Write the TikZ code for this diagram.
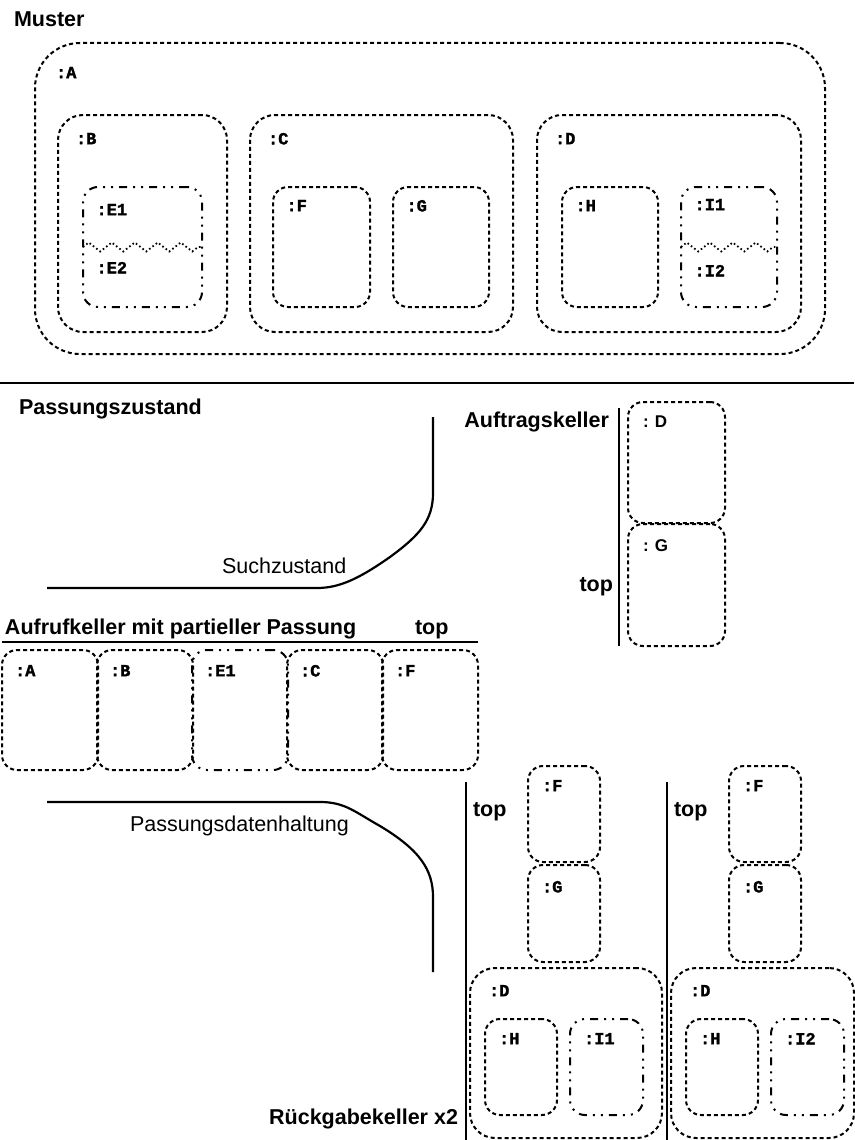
\documentclass[tikz,border=0pt]{standalone}
\usepackage{fontspec}
\setmainfont{Liberation Sans}
\setmonofont{Liberation Mono}[BoldFeatures={FakeBold=1.6}]
\usetikzlibrary{positioning, decorations.pathmorphing}

\begin{document}
\begin{tikzpicture}[
    x=1pt, y=-1pt,
    every node/.style={inner sep=0pt, outer sep=0pt},
    boxd/.style={draw, line width=2pt, dash pattern=on 4pt off 3pt, anchor=north west, rounded corners=15pt},
    bigbox/.style={boxd, rounded corners=25pt},
    dotbox/.style={boxd, dash pattern=on 8pt off 6pt on 2pt off 6pt on 2pt off 6pt},
    tagtxt/.style={font=\fontsize{17}{19}\selectfont\ttfamily\bfseries},
    stagtxt/.style={font=\fontsize{17}{19}\selectfont\bfseries},
    headtxt/.style={font=\fontsize{21.5}{25}\selectfont\bfseries},
    plaintxt/.style={font=\fontsize{21.5}{25}\selectfont},
    sline/.style={line width=2.2pt},
    zz/.style={line width=1.8pt, dash pattern=on 1.6pt off 2.6pt, decorate,
        decoration={zigzag, segment length=23pt, amplitude=4.5pt}}
]
\useasboundingbox (0,0) rectangle (854,1140);

% Muster
\node[headtxt, anchor=base west] (title-muster) at (14,27) {Muster};
\node[boxd, rounded corners=45pt, minimum width=790pt, minimum height=311pt] (A) at (35,43) {};
\node[tagtxt, below right=24pt and 21pt of A.north west] (A-t) {:A};

\node[bigbox, minimum width=169pt, minimum height=217pt] (B) at (58,115) {};
\node[tagtxt, below right=18pt and 18pt of B.north west] (B-t) {:B};
\node[bigbox, minimum width=263pt, minimum height=217pt] (C) at (250,115) {};
\node[tagtxt, below right=18pt and 18pt of C.north west] (C-t) {:C};
\node[bigbox, minimum width=264pt, minimum height=217pt] (D) at (537,115) {};
\node[tagtxt, below right=18pt and 18pt of D.north west] (D-t) {:D};

\node[dotbox, minimum width=119pt, minimum height=120pt] (E) at (83,187) {};
\node[tagtxt, below right=17pt and 13.5pt of E.north west] (E1-t) {:E1};
\node[tagtxt, below right=75pt and 13.5pt of E.north west] (E2-t) {:E2};
\draw[zz] (E.west) -- (E.east);
\node[boxd, minimum width=97pt, minimum height=120pt] (F) at (273,187) {};
\node[tagtxt, below right=13pt and 13.5pt of F.north west] (F-t) {:F};
\node[boxd, minimum width=96pt, minimum height=120pt] (G) at (393,187) {};
\node[tagtxt, below right=13pt and 13.5pt of G.north west] (G-t) {:G};
\node[boxd, minimum width=96pt, minimum height=120pt] (H) at (562,187) {};
\node[tagtxt, below right=13pt and 13.5pt of H.north west] (H-t) {:H};
\node[dotbox, minimum width=96pt, minimum height=120pt] (I) at (681,187) {};
\node[tagtxt, below right=12pt and 13.5pt of I.north west] (I1-t) {:I1};
\node[tagtxt, below right=78pt and 13.5pt of I.north west] (I2-t) {:I2};
\draw[zz] (I.west) -- (I.east);

\draw[sline] (0,383) -- (854,383);

% Passungszustand
\node[headtxt, anchor=base west] (title-state) at (19,414) {Passungszustand};
\draw[sline] (433,417) -- (433,493) .. controls (433,520) and (420,535) .. (390,557)
    .. controls (360,578) and (340,588) .. (317,588) -- (47,588);
\node[plaintxt, anchor=base west] (search) at (222,573) {Suchzustand};

% Auftragskeller
\node[headtxt, anchor=base east] (title-job) at (609,427) {Auftragskeller};
\draw[sline] (619,408) -- (619,646);
\node[headtxt, anchor=base east] (job-top) at (613,591) {top};
\node[boxd, minimum width=97pt, minimum height=121pt] (job-D) at (628,402) {};
\node[stagtxt, below right=14pt and 15pt of job-D.north west] (job-D-t) {: D};
\node[boxd, minimum width=97pt, minimum height=122pt] (job-G) at (628,524) {};
\node[stagtxt, below right=16pt and 15pt of job-G.north west] (job-G-t) {: G};

% Aufrufkeller
\node[headtxt, anchor=base west] (title-call) at (5,634) {Aufrufkeller mit partieller Passung};
\node[headtxt, anchor=base west] (call-top) at (415,634) {top};
\draw[sline] (2,642) -- (478,642);
\foreach \n/\t/\s in {0/A/boxd, 1/B/boxd, 2/E1/dotbox, 3/C/boxd, 4/F/boxd} {
  \node[\s, minimum width=96pt, minimum height=120pt] (call-\n) at ({2+95*\n},650) {};
  \node[tagtxt, below right=15pt and 13pt of call-\n.north west] (call-\n-t) {:\t};
}

% Passungsdatenhaltung
\draw[sline] (47,802) -- (320,802) .. controls (345,802) and (355,812) .. (380,826)
    .. controls (420,850) and (433,870) .. (433,897) -- (433,972);
\node[plaintxt, anchor=base west] (store) at (130,831) {Passungsdatenhaltung};

% Rueckgabekeller (two copies)
\node[headtxt, anchor=base east] (title-ret) at (458,1124) {Rückgabekeller x2};
\foreach \k/\dx/\t/\w in {1/0/I1/192, 2/201/I2/183} {
  \draw[sline] ({466+\dx},782) -- ({466+\dx},1140);
  \node[headtxt, anchor=base west] (ret\k-top) at ({473+\dx},816) {top};
  \node[boxd, minimum width=72pt, minimum height=96pt] (ret\k-F) at ({528+\dx},766) {};
  \node[tagtxt, below right=14pt and 14pt of ret\k-F.north west] (ret\k-F-t) {:F};
  \node[boxd, minimum width=72pt, minimum height=97pt] (ret\k-G) at ({528+\dx},865) {};
  \node[tagtxt, below right=16pt and 14pt of ret\k-G.north west] (ret\k-G-t) {:G};
  \node[bigbox, minimum width=\w pt, minimum height=170pt] (ret\k-D) at ({470+\dx},968) {};
  \node[tagtxt, below right=17pt and 19pt of ret\k-D.north west] (ret\k-D-t) {:D};
  \node[boxd, minimum width=72pt, minimum height=96pt] (ret\k-H) at ({485+\dx},1019) {};
  \node[tagtxt, below right=14pt and 14pt of ret\k-H.north west] (ret\k-H-t) {:H};
  \node[dotbox, minimum width=73pt, minimum height=96pt] (ret\k-I) at ({570+\dx},1019) {};
  \node[tagtxt, below right=14pt and 14pt of ret\k-I.north west] (ret\k-I-t) {:\t};
}

\end{tikzpicture}
\end{document}
